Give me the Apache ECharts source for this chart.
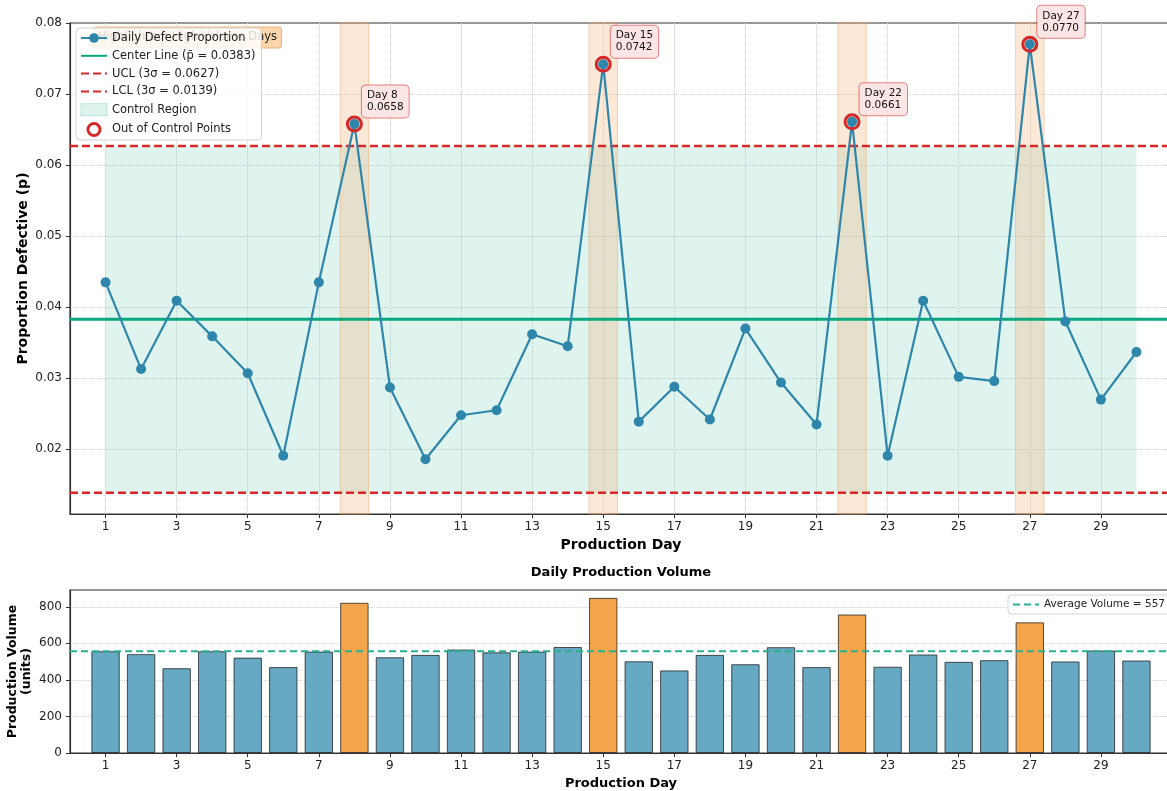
<!DOCTYPE html>
<html><head><meta charset="utf-8">
<script src="https://cdn.jsdelivr.net/npm/echarts@6/dist/echarts.min.js"></script>
<style>html,body{margin:0;padding:0;background:#fff;overflow:hidden}#c{width:1167px;height:791px}</style>
</head><body><div id="c"></div>
<script>
// ---------------- data ----------------
const days = [1,2,3,4,5,6,7,8,9,10,11,12,13,14,15,16,17,18,19,20,21,22,23,24,25,26,27,28,29,30];
const defectP = [0.0435,0.0313,0.0409,0.0359,0.0307,0.0191,0.0435,0.0658,0.0287,0.0186,
                 0.0248,0.0255,0.0362,0.0345,0.0742,0.0239,0.0288,0.0242,0.0370,0.0294,
                 0.0235,0.0661,0.0191,0.0409,0.0302,0.0296,0.0770,0.0380,0.0270,0.0337];
const volume = [557,541,464,557,522,470,555,822,524,537,
                566,551,555,580,849,502,452,537,486,579,
                470,758,472,539,499,508,715,501,561,506];
const centerP = 0.0383;
const uclP = 0.0627;
const lclP = 0.0139;
const avgVolume = 557;
const highlightDays = [8,15,22,27];
const dayTicks = [1,3,5,7,9,11,13,15,17,19,21,23,25,27,29];
const pTicks = [0.02,0.03,0.04,0.05,0.06,0.07,0.08];
const volTicks = [0,200,400,600,800];
const dayLimits = [0,31];
const pLimits = [0.0109,0.080];
const volLimits = [0,892];

// ---------------- build ----------------
const FONT = 'DejaVu Sans';
const blue = '#2E86AB';
const red = '#D62828';
const green = '#06A77D';
const outPoints = days.map((d,i)=>[d, defectP[i]]).filter(p => p[1] > uclP);
const nameCL = 'Center Line (p\u0304 = ' + centerP.toFixed(4) + ')';
const nameUCL = 'UCL (3\u03c3 = ' + uclP.toFixed(4) + ')';
const nameLCL = 'LCL (3\u03c3 = ' + lclP.toFixed(4) + ')';
const nameAvg = 'Average Volume = ' + avgVolume;

const gridLineStyle = {type:'dotted', color:'#d4d4d4', width:1};
const noSymbol = {color:'rgba(0,0,0,0)', borderColor:'rgba(0,0,0,0)', borderWidth:0};
const inside = (v, lim) => v > lim[0] && v < lim[1];

const chart = echarts.init(document.getElementById('c'), null, {renderer:'canvas'});
chart.setOption({
  animation:false,
  textStyle:{fontFamily:FONT},
  grid:[
    {left:70, top:23, width:1102, height:491, show:true, borderColor:'#333', borderWidth:1.2,
     backgroundColor:'transparent', containLabel:false, outerBoundsMode:'none'},
    {left:70, top:590, width:1102, height:163, show:true, borderColor:'#333', borderWidth:1.2,
     backgroundColor:'transparent', containLabel:false, outerBoundsMode:'none'}
  ],
  xAxis:[
    {type:'value', gridIndex:0, min:dayLimits[0], max:dayLimits[1], splitLine:{show:false},
     axisLine:{show:true, lineStyle:{color:'#333', width:1.2}},
     axisTick:{show:true, length:4, customValues:dayTicks, lineStyle:{color:'#333'}},
     axisLabel:{customValues:dayTicks, fontSize:12, color:'#222', margin:7, fontFamily:FONT},
     name:'Production Day', nameLocation:'middle', nameGap:24, nameMoveOverlap:false,
     nameTextStyle:{fontWeight:'bold', fontSize:14, color:'#000', fontFamily:FONT}},
    {type:'value', gridIndex:1, min:dayLimits[0], max:dayLimits[1], splitLine:{show:false},
     axisLine:{show:true, lineStyle:{color:'#333', width:1.2}},
     axisTick:{show:true, length:4, customValues:dayTicks, lineStyle:{color:'#333'}},
     axisLabel:{customValues:dayTicks, fontSize:12, color:'#222', margin:7, fontFamily:FONT},
     name:'Production Day', nameLocation:'middle', nameGap:24, nameMoveOverlap:false,
     nameTextStyle:{fontWeight:'bold', fontSize:13, color:'#000', fontFamily:FONT}}
  ],
  yAxis:[
    {type:'value', gridIndex:0, min:pLimits[0], max:pLimits[1], splitLine:{show:false},
     axisLine:{show:true, lineStyle:{color:'#333', width:1.2}},
     axisTick:{show:true, length:4, customValues:pTicks, lineStyle:{color:'#333'}},
     axisLabel:{customValues:pTicks, formatter:v=>v.toFixed(2), fontSize:12, color:'#222', margin:8, fontFamily:FONT},
     name:'Proportion Defective (p)', nameLocation:'middle', nameGap:40, nameMoveOverlap:false,
     nameTextStyle:{fontWeight:'bold', fontSize:14, color:'#000', fontFamily:FONT}},
    {type:'value', gridIndex:1, min:volLimits[0], max:volLimits[1], splitLine:{show:false},
     axisLine:{show:true, lineStyle:{color:'#333', width:1.2}},
     axisTick:{show:true, length:4, customValues:volTicks, lineStyle:{color:'#333'}},
     axisLabel:{customValues:volTicks, fontSize:12, color:'#222', margin:8, fontFamily:FONT},
     name:'Production Volume\n(units)', nameLocation:'middle', nameGap:36, nameMoveOverlap:false,
     nameTextStyle:{fontWeight:'bold', fontSize:12.5, color:'#000', lineHeight:14, fontFamily:FONT}}
  ],
  legend:[
    {left:76, top:28, orient:'vertical', itemWidth:26, itemHeight:12, itemGap:5.8,
     padding:[4,6,3,4], backgroundColor:'rgba(255,255,255,0.82)', borderColor:'#d3d3d3', borderWidth:1, borderRadius:4,
     selectedMode:false, z:10,
     textStyle:{fontFamily:FONT, fontSize:11.5, color:'#222'},
     data:[
       {name:'Daily Defect Proportion'},
       {name:nameCL, itemStyle:noSymbol},
       {name:nameUCL, itemStyle:noSymbol},
       {name:nameLCL, itemStyle:noSymbol},
       {name:'Control Region', icon:'rect', itemStyle:{color:'rgba(48,182,148,0.15)', borderColor:'rgba(48,182,148,0.3)', borderWidth:1}},
       {name:'Out of Control Points', icon:'circle', itemStyle:{color:'#fff', borderColor:red, borderWidth:3, opacity:1}}
     ]},
    {left:1008, top:595, orient:'vertical', itemWidth:26, itemHeight:10,
     padding:[4,6,4,4], backgroundColor:'rgba(255,255,255,0.85)', borderColor:'#d3d3d3', borderWidth:1, borderRadius:4,
     selectedMode:false, z:10,
     textStyle:{fontFamily:FONT, fontSize:10.5, color:'#222'},
     data:[{name:nameAvg, itemStyle:noSymbol}]}
  ],
  graphic:[
    {type:'text', x:281, y:37.5, z:1,
     style:{text:'Highlighted: High Volume Days', align:'right', verticalAlign:'middle',
            font:'11.5px "DejaVu Sans"', fill:'#222', backgroundColor:'#FBD6AC',
            borderColor:'#E9B47A', borderWidth:1, borderRadius:3, padding:[4,4,4,4]}},
    {type:'text', x:621, y:573,
     style:{text:'Daily Production Volume', align:'center', verticalAlign:'middle',
            font:'bold 13px "DejaVu Sans"', fill:'#000'}}
  ],
  series:[
    // grid lines (top)
    {type:'line', xAxisIndex:0, yAxisIndex:0, data:[], z:0, silent:true,
     markLine:{silent:true, z:0, symbol:['none','none'], label:{show:false}, lineStyle:gridLineStyle,
       data:[...dayTicks.filter(v=>inside(v,dayLimits)).map(x=>({xAxis:x})),
             ...pTicks.filter(v=>inside(v,pLimits)).map(y=>({yAxis:y}))]}},
    // control region
    {name:'Control Region', type:'line', xAxisIndex:0, yAxisIndex:0, data:[], z:1, silent:true,
     itemStyle:{color:'rgba(48,182,148,0.15)'},
     markArea:{silent:true, z:1, itemStyle:{color:'rgba(48,182,148,0.15)'},
       data:[[{xAxis:days[0], yAxis:lclP},{xAxis:days[days.length-1], yAxis:uclP}]]}},
    // highlight bands
    {type:'line', xAxisIndex:0, yAxisIndex:0, data:[], z:1, silent:true,
     markArea:{silent:true, z:1, itemStyle:{color:'rgba(244,162,97,0.25)', borderColor:'rgba(244,162,97,0.45)', borderWidth:1},
       data:highlightDays.map(d=>[{xAxis:d-0.4},{xAxis:d+0.4}])}},
    {name:nameCL, type:'line', xAxisIndex:0, yAxisIndex:0, z:2, symbol:'none', silent:true,
     data:[[dayLimits[0],centerP],[dayLimits[1],centerP]],
     itemStyle:{color:green}, lineStyle:{color:green, width:3}},
    {name:nameUCL, type:'line', xAxisIndex:0, yAxisIndex:0, z:2, symbol:'none', silent:true,
     data:[[dayLimits[0],uclP],[dayLimits[1],uclP]],
     itemStyle:{color:red}, lineStyle:{color:red, width:2.5, type:[8,4]}},
    {name:nameLCL, type:'line', xAxisIndex:0, yAxisIndex:0, z:2, symbol:'none', silent:true,
     data:[[dayLimits[0],lclP],[dayLimits[1],lclP]],
     itemStyle:{color:red}, lineStyle:{color:red, width:2.5, type:[8,4]}},
    {name:'Daily Defect Proportion', type:'line', xAxisIndex:0, yAxisIndex:0, z:3,
     data:days.map((d,i)=>[d, defectP[i]]),
     symbol:'circle', symbolSize:10, showAllSymbol:true,
     itemStyle:{color:blue}, lineStyle:{color:blue, width:2.2}},
    {name:'Out of Control Points', type:'scatter', xAxisIndex:0, yAxisIndex:0, z:4,
     data:outPoints, symbol:'circle', symbolSize:14,
     itemStyle:{color:'rgba(0,0,0,0)', borderColor:red, borderWidth:3, opacity:1},
     label:{show:true, position:[16,-30], align:'left', verticalAlign:'top',
       formatter:p=>'Day ' + p.data[0] + '\n' + p.data[1].toFixed(4),
       fontFamily:FONT, fontSize:10.5, lineHeight:12, color:'#111',
       backgroundColor:'#FCE5E5', borderColor:'rgba(214,40,40,0.6)', borderWidth:1, borderRadius:4,
       padding:[4,5,4,5]}},
    // grid lines (bottom)
    {type:'line', xAxisIndex:1, yAxisIndex:1, data:[], z:0, silent:true,
     markLine:{silent:true, z:0, symbol:['none','none'], label:{show:false}, lineStyle:gridLineStyle,
       data:volTicks.filter(v=>inside(v,volLimits)).map(y=>({yAxis:y}))}},
    {name:'Production Volume', type:'bar', xAxisIndex:1, yAxisIndex:1, z:2, barWidth:28.4,
     data:days.map((d,i)=>({value:[d, volume[i]],
       itemStyle:{color: highlightDays.includes(d) ? '#F4A44B' : '#67A8C3'}})),
     itemStyle:{borderColor:'rgba(30,30,30,0.75)', borderWidth:1}},
    {name:nameAvg, type:'line', xAxisIndex:1, yAxisIndex:1, z:3, symbol:'none', silent:true,
     data:[[dayLimits[0],avgVolume],[dayLimits[1],avgVolume]],
     itemStyle:{color:'#2AB08F'}, lineStyle:{color:'#2AB08F', width:2, type:[7,4]}}
  ]
});
</script></body></html>
